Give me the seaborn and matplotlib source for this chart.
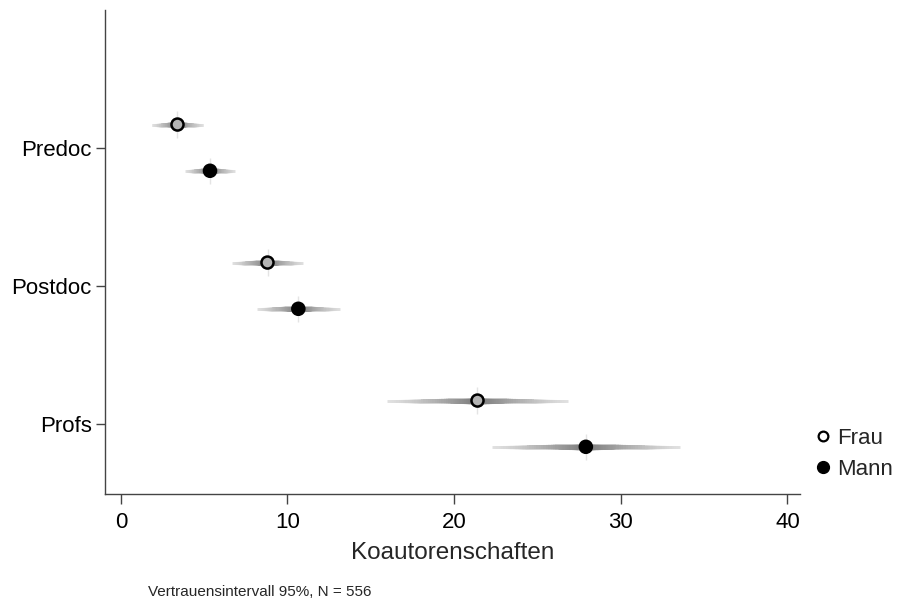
import numpy as np
import pandas as pd
import matplotlib
matplotlib.use("Agg")
import matplotlib.pyplot as plt
from matplotlib.lines import Line2D
import seaborn as sns

# Mean number of co-authorships with 95% confidence intervals
groups = ["Predoc", "Postdoc", "Profs"]
genders = ["Frau", "Mann"]
est_frau = [3.4, 8.8, 21.4]
lo_frau = [1.85, 6.65, 16.0]
hi_frau = [4.95, 10.95, 26.8]
est_mann = [5.35, 10.65, 27.9]
lo_mann = [3.85, 8.15, 22.25]
hi_mann = [6.85, 13.15, 33.55]
xticks = [0, 10, 20, 30, 40]

rows = []
for g, grp in enumerate(groups):
    rows.append(dict(Gruppe=grp, idx=g, Geschlecht="Frau",
                     est=est_frau[g], lo=lo_frau[g], hi=hi_frau[g]))
    rows.append(dict(Gruppe=grp, idx=g, Geschlecht="Mann",
                     est=est_mann[g], lo=lo_mann[g], hi=hi_mann[g]))
df = pd.DataFrame(rows)
dodge = {"Frau": -0.17, "Mann": 0.165}
df["pos"] = df["idx"] + df["Geschlecht"].map(dodge)

sns.set_theme(style="white")
plt.rcParams["font.family"] = ["Liberation Sans", "DejaVu Sans"]

fig = plt.figure(figsize=(9.03, 6.01), dpi=100)
ax_bottom = (601 - 494) / 601
ax_top = (601 - 10) / 601
ax = fig.add_axes([105 / 903, ax_bottom, (800 - 105) / 903, ax_top - ax_bottom])

# Smoothly shaded confidence bars: nested intervals, darker and wider towards the estimate
n_layers = 40
for _, r in df.iterrows():
    half_lo = r["est"] - r["lo"]
    half_hi = r["hi"] - r["est"]
    for i in range(n_layers):
        f = 1.0 - i / n_layers  # outer -> inner
        t = i / (n_layers - 1)
        shade = 0.88 - 0.40 * t ** 1.2
        lw = 2.1 + 2.0 * t ** 1.6
        ax.hlines(r["pos"], r["est"] - f * half_lo, r["est"] + f * half_hi,
                  color=(shade, shade, shade), lw=lw, zorder=2)
    ax.vlines(r["est"], r["pos"] - 0.095, r["pos"] + 0.095,
              color="#e4e4e4", lw=1.0, zorder=1.5)

sns.scatterplot(data=df, x="est", y="pos", hue="Geschlecht",
                palette={"Frau": "#b4b4b4", "Mann": "black"},
                edgecolor="black", linewidth=1.8, s=75, legend=False,
                zorder=3, ax=ax)

ax.set_xlim(-0.95, 40.75)
ax.set_ylim(2.507, -1.0)
ax.set_xticks(xticks)
ax.set_xticklabels([str(v) for v in xticks], fontsize=16)
ax.set_yticks(range(len(groups)))
ax.set_yticklabels(groups, fontsize=16)
ax.set_xlabel("Koautorenschaften", fontsize=17.5, labelpad=6)
ax.set_ylabel("")

for side in ["top", "right"]:
    ax.spines[side].set_visible(False)
for side in ["left", "bottom"]:
    ax.spines[side].set_color("#444444")
    ax.spines[side].set_linewidth(1.0)
ax.tick_params(axis="x", which="major", direction="out", length=7.2,
               width=1.0, color="#444444", labelcolor="black", pad=6,
               bottom=True)
ax.tick_params(axis="y", which="major", direction="out", length=6.5,
               width=1.0, color="#444444", labelcolor="black", pad=3,
               left=True)

handles = [
    Line2D([], [], ls="none", marker="o", markersize=7, markerfacecolor="white",
           markeredgecolor="black", markeredgewidth=1.6, label="Frau"),
    Line2D([], [], ls="none", marker="o", markersize=8.5, markerfacecolor="black",
           markeredgecolor="black", label="Mann"),
]
fig.legend(handles=handles, loc="center left", bbox_to_anchor=(0.89, 0.245),
           frameon=False, fontsize=16, handletextpad=0.2, labelspacing=0.45,
           borderaxespad=0, handlelength=0.9)

fig.text(148 / 903, 1 - 592 / 601, "Vertrauensintervall 95%, N = 556",
         fontsize=11, ha="left", va="center")

fig.savefig("out.png", dpi=100)
